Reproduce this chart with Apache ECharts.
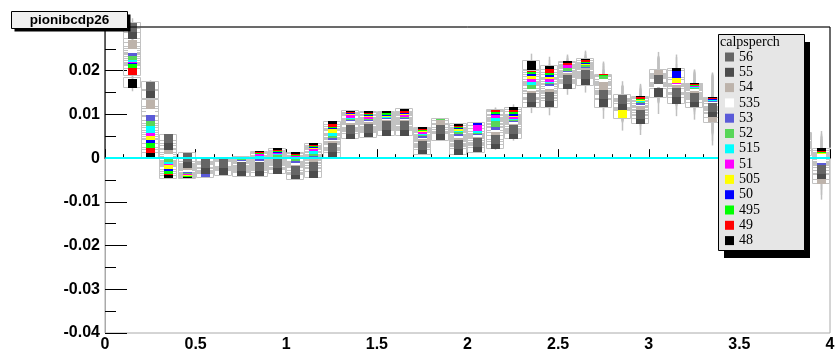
<!DOCTYPE html>
<html>
<head>
<meta charset="utf-8">
<script src="https://cdn.jsdelivr.net/npm/echarts@6/dist/echarts.min.js"></script>
<style>
  html, body { margin: 0; padding: 0; background: #ffffff; }
  #chart { width: 836px; height: 349px; }
</style>
</head>
<body>
<div id="chart"></div>
<script>
// Bin centres (bin width 0.1)
const binCenters = [0.15, 0.25, 0.35, 0.45, 0.55, 0.65, 0.75, 0.85, 0.95, 1.05,
  1.15, 1.25, 1.35, 1.45, 1.55, 1.65, 1.75, 1.85, 1.95, 2.05,
  2.15, 2.25, 2.35, 2.45, 2.55, 2.65, 2.75, 2.85, 2.95, 3.05,
  3.15, 3.25, 3.35, 3.45, 3.55, 3.65, 3.75, 3.85, 3.95];
const BIN_HALF = 0.05;

// calpsperch settings, in legend order, with their marker colours
const calpsperch = ['56', '55', '54', '535', '53', '52', '515', '51', '505', '50', '495', '49', '48'];
const markerColors = ['#666666', '#4c4c4c', '#bdb3ab', '#ffffff', '#5a5ad8', '#58d658', '#00ffff',
  '#ff00ff', '#ffff00', '#0000ff', '#00ff00', '#ff0000', '#000000'];

// Values per calpsperch setting, one per bin
const v56 = [0.0300, 0.0166, 0.0045, 0.0003, -0.0010, -0.0012, -0.0017, -0.0017, -0.0012, -0.0026, -0.0019, 0.0025, 0.0067, 0.0070, 0.0075, 0.0075, 0.0031, 0.0067, 0.0033, 0.0037, 0.0044, 0.0067, 0.0140, 0.0143, 0.0182, 0.0193, 0.0147, 0.0136, 0.0102, 0.0180, 0.0151, 0.0140, 0.0117, 0.0095, 0.0080, 0.0062, 0.0045, 0.0030, -0.0024];
const v55 = [0.0285, 0.0148, 0.0031, -0.0010, -0.0024, -0.0028, -0.0030, -0.0030, -0.0024, -0.0037, -0.0033, 0.0012, 0.0056, 0.0060, 0.0063, 0.0063, 0.0020, 0.0052, 0.0019, 0.0025, 0.0033, 0.0056, 0.0128, 0.0128, 0.0170, 0.0178, 0.0128, 0.0121, 0.0090, 0.0151, 0.0136, 0.0128, 0.0105, 0.0083, 0.0068, 0.0050, 0.0033, 0.0018, -0.0036];
const v54 = [0.0262, 0.0125, 0.0020, -0.0016, -0.0016, -0.0015, -0.0020, -0.0020, -0.0015, -0.0024, -0.0012, 0.0030, 0.0072, 0.0073, 0.0078, 0.0078, 0.0035, 0.0078, 0.0038, 0.0040, 0.0050, 0.0070, 0.0145, 0.0150, 0.0185, 0.0196, 0.0166, 0.0125, 0.0110, 0.0193, 0.0158, 0.0145, 0.0094, 0.0098, 0.0083, 0.0065, 0.0048, 0.0033, -0.0047];
const v535 = [0.0253, 0.0109, 0.0014, -0.0020, -0.0017, -0.0014, -0.0016, -0.0015, -0.0010, -0.0020, -0.0009, 0.0033, 0.0075, 0.0076, 0.0080, 0.0080, 0.0038, 0.0070, 0.0042, 0.0043, 0.0055, 0.0073, 0.0150, 0.0155, 0.0188, 0.0198, 0.0172, 0.0124, 0.0112, 0.0175, 0.0160, 0.0148, 0.0120, 0.0100, 0.0085, 0.0067, 0.0050, 0.0035, 0.0000];
const v53 = [0.0244, 0.0097, 0.0010, -0.0022, -0.0032, -0.0013, -0.0014, -0.0012, -0.0006, -0.0016, -0.0005, 0.0037, 0.0078, 0.0078, 0.0082, 0.0082, 0.0041, 0.0069, 0.0046, 0.0047, 0.0063, 0.0076, 0.0150, 0.0160, 0.0190, 0.0200, 0.0160, 0.0125, 0.0117, 0.0176, 0.0161, 0.0150, 0.0121, 0.0102, 0.0087, 0.0069, 0.0052, 0.0037, -0.0004];
const v52 = [0.0235, 0.0086, 0.0003, -0.0024, -0.0018, -0.0008, -0.0012, -0.0008, -0.0003, -0.0010, 0.0000, 0.0042, 0.0080, 0.0080, 0.0083, 0.0084, 0.0044, 0.0081, 0.0050, 0.0048, 0.0075, 0.0078, 0.0159, 0.0163, 0.0196, 0.0203, 0.0178, 0.0124, 0.0120, 0.0177, 0.0160, 0.0152, 0.0122, 0.0104, 0.0089, 0.0071, 0.0054, 0.0039, -0.0006];
const v515 = [0.0231, 0.0070, -0.0001, -0.0025, -0.0018, -0.0007, -0.0008, -0.0004, 0.0000, -0.0008, 0.0007, 0.0048, 0.0082, 0.0081, 0.0084, 0.0085, 0.0046, 0.0069, 0.0052, 0.0052, 0.0082, 0.0080, 0.0165, 0.0166, 0.0198, 0.0204, 0.0158, 0.0123, 0.0121, 0.0178, 0.0161, 0.0154, 0.0123, 0.0105, 0.0090, 0.0072, 0.0055, 0.0040, 0.0001];
const v51 = [0.0229, 0.0062, -0.0005, -0.0027, -0.0019, -0.0010, -0.0006, 0.0001, 0.0002, -0.0004, 0.0011, 0.0045, 0.0089, 0.0085, 0.0086, 0.0089, 0.0050, 0.0068, 0.0054, 0.0066, 0.0089, 0.0085, 0.0172, 0.0172, 0.0205, 0.0205, 0.0160, 0.0124, 0.0122, 0.0179, 0.0163, 0.0155, 0.0124, 0.0106, 0.0091, 0.0073, 0.0056, 0.0041, -0.0009];
const v505 = [0.0228, 0.0054, -0.0014, -0.0029, -0.0019, -0.0012, -0.0012, -0.0004, 0.0003, -0.0006, 0.0013, 0.0057, 0.0092, 0.0088, 0.0088, 0.0091, 0.0052, 0.0068, 0.0057, 0.0060, 0.0085, 0.0088, 0.0179, 0.0176, 0.0202, 0.0207, 0.0162, 0.0103, 0.0123, 0.0180, 0.0175, 0.0156, 0.0125, 0.0107, 0.0092, 0.0074, 0.0057, 0.0042, 0.0002];
const v50 = [0.0226, 0.0045, -0.0019, -0.0030, -0.0020, -0.0013, -0.0014, -0.0002, 0.0005, -0.0004, 0.0016, 0.0059, 0.0093, 0.0090, 0.0090, 0.0093, 0.0054, 0.0067, 0.0060, 0.0072, 0.0092, 0.0092, 0.0183, 0.0182, 0.0204, 0.0208, 0.0163, 0.0125, 0.0124, 0.0181, 0.0191, 0.0157, 0.0126, 0.0108, 0.0093, 0.0075, 0.0058, 0.0043, -0.0003];
const v495 = [0.0217, 0.0035, -0.0024, -0.0031, -0.0020, -0.0014, -0.0015, 0.0002, 0.0007, -0.0002, 0.0018, 0.0063, 0.0094, 0.0092, 0.0093, 0.0095, 0.0056, 0.0070, 0.0062, 0.0048, 0.0097, 0.0097, 0.0187, 0.0186, 0.0200, 0.0210, 0.0180, 0.0126, 0.0127, 0.0182, 0.0162, 0.0159, 0.0127, 0.0110, 0.0095, 0.0077, 0.0060, 0.0045, 0.0004];
const v49 = [0.0201, 0.0024, -0.0028, -0.0032, -0.0021, -0.0015, -0.0016, 0.0005, 0.0009, 0.0001, 0.0020, 0.0068, 0.0096, 0.0095, 0.0095, 0.0098, 0.0058, 0.0069, 0.0065, 0.0042, 0.0100, 0.0102, 0.0191, 0.0195, 0.0209, 0.0215, 0.0183, 0.0127, 0.0130, 0.0183, 0.0163, 0.0161, 0.0129, 0.0112, 0.0097, 0.0079, 0.0062, 0.0047, 0.0008];
const v48 = [0.0173, 0.0011, -0.0034, -0.0035, -0.0021, -0.0016, -0.0018, 0.0007, 0.0013, 0.0005, 0.0025, 0.0075, 0.0099, 0.0098, 0.0098, 0.0104, 0.0061, 0.0068, 0.0070, 0.0040, 0.0102, 0.0107, 0.0214, 0.0202, 0.0212, 0.0218, 0.0165, 0.0128, 0.0133, 0.0184, 0.0197, 0.0163, 0.0131, 0.0115, 0.0100, 0.0082, 0.0065, 0.0050, 0.0014];
const valuesBySetting = [v56, v55, v54, v535, v53, v52, v515, v51, v505, v50, v495, v49, v48];

// Statistical error (vertical bar) and error-box half height, per bin
const statErr = [0.0020, 0.0012, 0.0010, 0.0008, 0.0008, 0.0008, 0.0008, 0.0008, 0.0008, 0.0008,
  0.0008, 0.0010, 0.0010, 0.0010, 0.0010, 0.0010, 0.0010, 0.0010, 0.0010, 0.0010,
  0.0014, 0.0016, 0.0025, 0.0030, 0.0025, 0.0028, 0.0038, 0.0040, 0.0037, 0.0050,
  0.0040, 0.0040, 0.0065, 0.0060, 0.0060, 0.0060, 0.0060, 0.0060, 0.0048];
const boxHalf = [0.0012, 0.0010, 0.0010, 0.0010, 0.0010, 0.0010, 0.0010, 0.0010, 0.0010, 0.0010,
  0.0010, 0.0010, 0.0010, 0.0010, 0.0010, 0.0010, 0.0010, 0.0010, 0.0010, 0.0010,
  0.0010, 0.0010, 0.0010, 0.0010, 0.0010, 0.0010, 0.0010, 0.0010, 0.0010, 0.0010,
  0.0010, 0.0010, 0.0010, 0.0010, 0.0010, 0.0010, 0.0010, 0.0010, 0.0010];

// Outline of the frame drawn in black (left edge above zero, top, right edge)
const frameTrace = [[0, 0], [0, 0.03], [4, 0.03], [4, 0.0024]];

const histTitle = 'pionibcdp26';
const legendTitle = 'calpsperch';

// error box + error bar of one point
function errorRenderer(params, api) {
  const x = api.value(0), y = api.value(1), e = api.value(2), b = api.value(3);
  const c = api.coord([x, y]);
  const left = api.coord([x - BIN_HALF, y])[0];
  const right = api.coord([x + BIN_HALF, y])[0];
  const bTop = api.coord([x, y + b])[1];
  const bBot = api.coord([x, y - b])[1];
  const eTop = api.coord([x, y + e])[1];
  const eBot = api.coord([x, y - e])[1];
  const cx = Math.round(c[0]) + 0.5;
  return {
    type: 'group',
    children: [
      { type: 'rect', shape: { x: Math.round(left) + 0.5, y: Math.round(bTop) + 0.5, width: Math.round(right - left) - 1, height: Math.round(bBot - bTop) },
        style: { fill: 'none', stroke: '#c2c2c2', lineWidth: 1 } },
      { type: 'line', shape: { x1: cx, y1: eTop, x2: cx, y2: eBot },
        style: { stroke: '#c0c0c0', lineWidth: 1.5 } }
    ]
  };
}

// square marker of one point
function markerRenderer(color) {
  return function (params, api) {
    const c = api.coord([api.value(0), api.value(1)]);
    return { type: 'rect', shape: { x: Math.round(c[0] - 4), y: Math.round(c[1] - 4), width: 9, height: 9 },
      style: { fill: color, stroke: null } };
  };
}

function pointData(i) {
  return binCenters.map((x, k) => [x, valuesBySetting[i][k], statErr[k], boxHalf[k]]);
}

// Draw 48 first and 56 last
const drawOrder = calpsperch.map((_, i) => i).reverse();
const errorSeries = drawOrder.map(i => ({
  name: calpsperch[i] + ' errors',
  type: 'custom', clip: false, silent: true, z: 2,
  renderItem: errorRenderer,
  encode: { x: 0, y: 1 },
  data: pointData(i)
}));
const markerSeries = drawOrder.map(i => ({
  name: calpsperch[i],
  type: 'custom', clip: false, silent: true, z: 3,
  itemStyle: { color: markerColors[i] },
  renderItem: markerRenderer(markerColors[i]),
  encode: { x: 0, y: 1 },
  data: pointData(i)
}));

const chart = echarts.init(document.getElementById('chart'), null, { renderer: 'canvas' });
const labelFont = { fontFamily: '"Liberation Sans", Arial, Helvetica, sans-serif', fontWeight: 'bold', fontSize: 16, color: '#000' };
const serif = '"Liberation Serif", "DejaVu Serif", "Times New Roman", serif';

chart.setOption({
  animation: false,
  backgroundColor: '#ffffff',
  grid: { left: 105, top: 27, right: 6, bottom: 16, outerBoundsMode: 'none', containLabel: false,
    show: true, borderColor: '#aaaaaa', borderWidth: 1, backgroundColor: 'transparent' },
  xAxis: {
    type: 'value', min: 0, max: 4, interval: 0.5,
    axisLine: { show: true, lineStyle: { color: '#000', width: 1 } },
    axisTick: { show: true, inside: true, length: 9, lineStyle: { color: '#000' } },
    minorTick: { show: true, splitNumber: 5, length: 4, lineStyle: { color: '#000' } },
    splitLine: { show: false },
    axisLabel: Object.assign({ margin: 4 }, labelFont)
  },
  yAxis: {
    type: 'value', min: -0.04, max: 0.03, interval: 0.01,
    axisLine: { show: true, lineStyle: { color: '#aaaaaa', width: 1 } },
    axisTick: { show: true, inside: true, length: 22, lineStyle: { color: '#000' } },
    minorTick: { show: true, splitNumber: 2, length: 11, lineStyle: { color: '#000' } },
    splitLine: { show: false },
    axisLabel: Object.assign({ margin: 5 }, labelFont)
  },
  legend: {
    data: calpsperch,
    orient: 'vertical',
    left: 725, top: 50,
    padding: 0,
    itemWidth: 9, itemHeight: 9, itemGap: 1.3,
    icon: 'rect',
    selectedMode: false,
    z: 11,
    textStyle: { fontFamily: serif, fontSize: 14, color: '#000', lineHeight: 14 }
  },
  graphic: [
    // legend panel
    { type: 'rect', z: 10, silent: true, shape: { x: 724, y: 42, width: 86, height: 216 }, style: { fill: '#000' } },
    { type: 'rect', z: 10, silent: true, shape: { x: 718.5, y: 34.5, width: 86, height: 216 }, style: { fill: '#e6e6e6', stroke: '#000', lineWidth: 1 } },
    { type: 'text', z: 11, silent: true, x: 720, y: 42, style: { text: legendTitle, font: '14px ' + serif, fill: '#000', verticalAlign: 'middle' } },
    // histogram title box
    { type: 'rect', z: 12, silent: true, shape: { x: 14.5, y: 14.5, width: 116, height: 17 }, style: { fill: '#000' } },
    { type: 'rect', z: 12, silent: true, shape: { x: 11.5, y: 11.5, width: 116, height: 17 }, style: { fill: '#f0f0f0', stroke: '#000', lineWidth: 1 } },
    { type: 'text', z: 13, silent: true, x: 69.5, y: 20, style: { text: histTitle, font: 'bold 13.5px "Liberation Sans", Arial, sans-serif', fill: '#000', align: 'center', verticalAlign: 'middle' } }
  ],
  series: errorSeries.concat(markerSeries).concat([
    {
      name: 'frame',
      type: 'line',
      data: frameTrace,
      clip: false,
      silent: true,
      symbol: 'none',
      z: 5,
      lineStyle: { color: '#000', width: 1 },
      markLine: {
        silent: true,
        symbol: 'none',
        label: { show: false },
        lineStyle: { color: '#00ffff', width: 2, type: 'solid' },
        data: [{ yAxis: 0 }]
      }
    }
  ])
});
</script>
</body>
</html>
